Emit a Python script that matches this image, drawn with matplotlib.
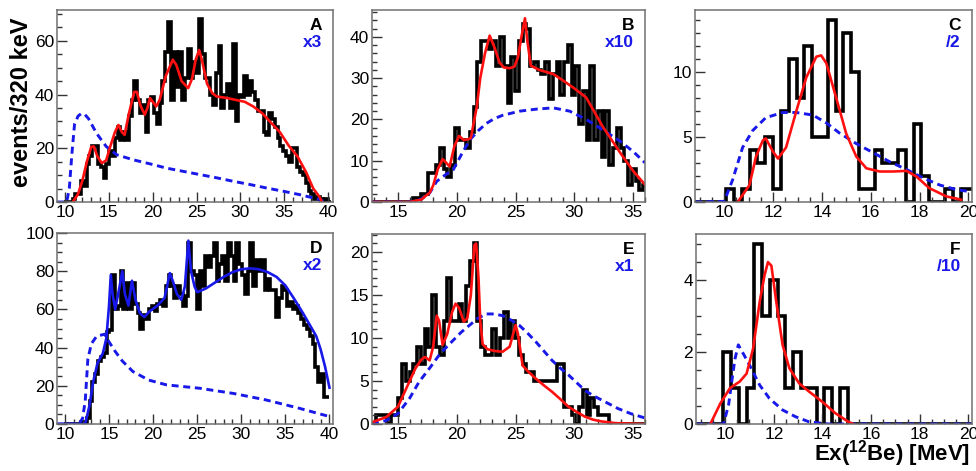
import matplotlib
matplotlib.use("Agg")
import matplotlib.pyplot as plt
from matplotlib.ticker import MultipleLocator
import numpy as np

plt.rcParams['font.family'] = ['Liberation Sans', 'DejaVu Sans']
plt.rcParams['mathtext.fontset'] = 'custom'
plt.rcParams['mathtext.rm'] = 'Liberation Sans:bold'

BIN = 0.32  # MeV, 320 keV bins

# ---- panel A ----
a_start = 9.92
a_counts = [0, 0, 0, 1, 3, 3, 8, 6, 14, 17, 21, 21, 14, 13, 9, 14, 19, 17, 24, 28,
            23, 26, 23, 32, 38, 45, 38, 33, 36, 26, 38, 39, 33, 29, 37, 45, 56, 67, 38, 56,
            43, 56, 38, 46, 57, 46, 52, 48, 68, 55, 46, 46, 40, 36, 48, 58, 35, 40, 44, 35,
            59, 30, 40, 39, 47, 40, 45, 41, 38, 34, 34, 26, 25, 33, 31, 28, 24, 21, 19, 17,
            15, 20, 20, 13, 11, 10, 7, 4, 3, 1, 2, 1, 0, 1, 0]
a_fit_x = [10.9, 11.5, 12.0, 12.5, 13.0, 13.3, 13.7, 14.2, 14.7, 15.2, 15.7, 16.1, 16.5,
           16.8, 17.3, 17.9, 18.2, 18.6, 19.1, 19.4, 19.7, 20.4, 20.8, 21.5, 22.3, 22.7,
           23.3, 24.05, 24.5, 24.9, 25.3, 25.6, 26.2, 26.8, 27.3, 28.5, 29.5, 30.5, 31.5,
           32.5, 33.5, 34.5, 35.5, 36.5, 37.5, 38.3, 39.0, 39.3]
a_fit_y = [0, 3, 8, 15, 20.5, 20.7, 17, 14.5, 15.5, 21, 26, 28.7, 26, 25, 33, 41, 41,
           36, 32.5, 35, 38.7, 35.6, 38, 47, 53, 51, 45, 42.4, 46, 53, 56.6, 53, 44, 40.5,
           39.3, 38.7, 38, 37.3, 35.5, 33, 29.5, 26, 21, 17, 11, 5, 2, 0]
a_sim_x = [9.1, 10.2, 10.5, 10.8, 11.1, 11.5, 11.9, 12.3, 12.7, 13.6, 14.7, 15.9, 17.8,
           19.7, 21.6, 23.5, 25.4, 27.3, 29.2, 31.1, 33.0, 34.9, 36.8, 39.1, 39.6]
a_sim_y = [0, 0, 5, 18, 29, 32, 33, 32.5, 31, 25.6, 20.7, 17.6, 15.7, 14.2, 12.6, 11.4,
           10.2, 9, 7.7, 6.5, 5.2, 4, 2.7, 0.9, 0]

# ---- panel B ----
b_start = 12.80
b_counts = [0, 0, 0, 0, 0, 0, 0, 0, 0, 0, 0, 1, 1, 2, 2, 7, 7, 9, 13, 8,
            6, 9, 18, 15, 15, 13, 17, 23, 34, 39, 39, 37, 39, 33, 40, 33, 24, 35, 27, 39,
            43, 42, 33, 34, 32, 31, 34, 25, 31, 34, 26, 34, 38, 26, 33, 19, 27, 15, 33, 15,
            22, 11, 22, 9, 13, 18, 13, 10, 4, 8, 5, 3, 4]
b_fit_x = [12.8, 16.0, 17.0, 17.5, 17.7, 18.0, 18.4, 18.8, 19.1, 19.4, 19.8, 20.2, 20.6,
           21.0, 21.2, 21.7, 22.0, 22.4, 22.8, 23.2, 23.65, 24.0, 24.5, 24.9, 25.2, 25.5,
           25.8, 26.0, 26.3, 27.0, 28.2, 29.0, 30.0, 31.0, 32.4, 33.9, 35.0, 36.0]
b_fit_y = [0, 0, 0.6, 1.8, 2.2, 4, 8, 10.4, 9.5, 8.6, 13.5, 16, 15, 15.2, 15.5, 23, 30,
           36, 40.3, 37.5, 33.7, 32.6, 32.4, 32.8, 35, 40, 44.5, 39, 33, 32, 31, 29.5, 27.5,
           25.3, 18.3, 11.9, 7.5, 4.2]
b_sim_x = [12.8, 16.0, 17.0, 17.7, 18.3, 19.0, 19.7, 20.4, 21.1, 21.8, 22.5, 23.2, 23.9,
           25.35, 26.8, 28.2, 29.6, 31.0, 32.4, 33.9, 35.0, 36.0]
b_sim_y = [0, 0, 0.7, 2.2, 5, 6.5, 7.8, 11.5, 15, 17.2, 19, 20.2, 21, 22, 22.5, 22.8, 22,
           20, 17.5, 14.7, 12.2, 9.5]

# ---- panel C ----
c_start = 8.80
c_counts = [0, 0, 0, 0, 1, 0, 1, 4, 3, 5, 1, 7, 11, 8, 12, 5, 5, 14, 7, 13,
            10, 1, 1, 4, 3, 3, 4, 0, 6, 2, 0, 0, 1, 0, 1, 1]
c_fit_x = [10.55, 11.03, 11.3, 11.58, 11.7, 11.99, 12.2, 12.53, 12.95, 13.36, 13.77,
           13.97, 14.18, 14.59, 15.0, 15.41, 15.82, 16.37, 16.92, 17.47, 17.88, 18.4,
           19.1, 19.7]
c_fit_y = [0, 1.3, 3.5, 4.75, 4.9, 3.9, 3.35, 4.2, 7, 9.6, 11.2, 11.3, 10.7, 8, 5.25, 3.5,
           2.6, 2.35, 2.35, 2.4, 1.95, 1.07, 0.43, 0.18]
c_sim_x = [8.8, 10.0, 10.34, 10.75, 11.16, 11.7, 12.4, 12.95, 13.63, 14.18, 14.73, 15.41,
           16.1, 16.78, 17.47, 18.15, 18.84, 19.52, 20.07]
c_sim_y = [0, 0.05, 1.7, 4.2, 5.5, 6.5, 6.9, 6.9, 6.7, 6.1, 5.3, 4.5, 3.8, 3.1, 2.5, 1.85,
           1.3, 0.95, 0.8]

# ---- panel D ----
d_start = 9.92
d_counts = [0, 0, 0, 0, 0, 0, 1, 1, 3, 12, 22, 26, 33, 35, 37, 48, 49, 78, 60, 62,
            80, 60, 74, 60, 74, 63, 58, 50, 57, 55, 60, 62, 59, 63, 65, 62, 72, 78, 72, 66,
            72, 68, 62, 67, 95, 80, 78, 60, 80, 72, 88, 82, 88, 95, 75, 84, 88, 75, 95, 88,
            75, 95, 84, 78, 68, 80, 95, 72, 86, 80, 86, 70, 76, 70, 70, 56, 66, 72, 70, 62,
            64, 60, 62, 58, 55, 52, 50, 46, 42, 30, 22, 26, 14, 14]
d_fit_x = [9.1, 12.3, 12.8, 13.2, 13.7, 14.3, 14.7, 15.0, 15.2, 15.4, 15.7, 16.2, 16.5,
           16.8, 17.2, 17.6, 18.0, 18.5, 19.0, 19.6, 20.5, 21.3, 21.9, 22.3, 22.7, 23.2,
           23.6, 24.0, 24.3, 24.7, 25.0, 26, 27, 28, 29, 30, 31, 32, 33, 34, 35, 36, 37,
           38, 38.5, 39, 39.5, 40]
d_fit_y = [0, 0, 10, 22, 32, 37, 45, 62, 78, 68, 60, 72, 80, 68, 62, 75, 65, 58, 56, 59,
           62, 66, 79, 74, 68, 65, 72, 96, 80, 72, 69, 71, 74, 77, 79.5, 81, 81.5, 81,
           79.5, 77, 72.5, 65.5, 58, 50, 46, 39, 30, 19]
d_sim_x = [9.1, 11.6, 12.0, 12.3, 12.6, 13.0, 13.6, 14.5, 15.0, 15.7, 16.5, 17.7, 19.5,
           21.5, 25.3, 29.1, 32.8, 36.6, 40.0]
d_sim_y = [0, 0, 3, 12, 34, 42, 46, 47, 43, 38, 33, 27.5, 23, 20.5, 18.7, 16, 12.6, 8.2,
           3.9]

# ---- panel E ----
e_start = 12.80
e_counts = [0, 1, 1, 1, 0, 1, 1, 3, 7, 5, 6, 7, 9, 7, 11, 9, 15, 9, 8, 12,
            17, 12, 12, 14, 12, 16, 19, 21, 12, 9, 8, 8, 11, 8, 10, 13, 10, 12, 10, 8,
            7, 6, 6, 5, 5, 5, 5, 5, 5, 7, 7, 2, 2, 1, 0, 2, 4, 1, 3, 2,
            1, 1, 1, 0, 0, 0, 0, 0, 0, 0, 0, 0, 0]
e_fit_x = [12.8, 14.0, 15.0, 15.5, 16.0, 16.5, 17.0, 17.3, 17.7, 18.0, 18.3, 18.5, 18.8,
           19.2, 19.6, 19.9, 20.2, 20.6, 20.9, 21.2, 21.5, 21.65, 21.85, 22.0, 22.2, 22.6,
           23.2, 23.9, 24.5, 24.8, 25.0, 25.2, 25.6, 26.0, 26.7, 27.4, 28.1, 28.8, 29.5,
           30.2, 30.9, 31.6, 32.3, 33.5, 36.0]
e_fit_y = [0.2, 0.8, 2, 3.5, 5, 6.5, 7.5, 7.8, 7.4, 9, 12.6, 12, 9.2, 10.5, 13, 14, 13.5,
           11.9, 12.3, 15, 20.8, 21, 17, 12, 9.3, 8.7, 8.5, 8.4, 9, 10.5, 11.5, 10.5, 6.8,
           6.2, 5.3, 4.5, 3.75, 2.9, 2.0, 1.4, 0.85, 0.5, 0.3, 0.1, 0]
e_sim_x = [12.8, 14.0, 15.0, 16.0, 16.8, 17.7, 18.6, 19.6, 20.4, 21.1, 21.8, 22.5, 23.2,
           23.9, 24.6, 25.3, 26.0, 26.7, 27.4, 28.1, 28.8, 29.5, 30.2, 30.9, 31.6, 32.3,
           33.0, 33.7, 34.8, 36.0]
e_sim_y = [0, 0.4, 1.2, 3.0, 4.9, 6.5, 8.2, 9.6, 10.7, 11.5, 12.3, 12.8, 12.8, 12.6, 12.1,
           11.5, 10.6, 9.6, 8.5, 7.4, 6.5, 5.7, 4.8, 3.9, 3.3, 2.8, 2.3, 1.8, 1.2, 0.7]

# ---- panel F ----
f_start = 8.64
f_counts = [0, 0, 0, 0, 2, 1, 0, 1, 5, 3, 4, 3, 1, 2, 1, 1, 0, 1, 0, 1,
            0, 0, 0, 0, 0, 0, 0, 0, 0, 0, 0, 0, 0, 0, 0, 0, 0]
f_fit_x = [9.39, 9.8, 10.2, 10.6, 10.88, 11.15, 11.42, 11.62, 11.76, 11.9, 12.1, 12.36,
           12.64, 13.04, 13.45, 13.99, 14.53, 15.07, 15.27]
f_fit_y = [0, 0.57, 1.0, 1.18, 1.4, 2.1, 3.4, 4.14, 4.5, 4.4, 3.4, 2.2, 1.55, 1.13, 0.9,
           0.62, 0.3, 0.06, 0]
f_sim_x = [8.8, 9.93, 10.14, 10.27, 10.4, 10.54, 10.74, 11.0, 11.42, 11.82, 12.36, 12.9,
           13.45, 14.26, 20.15]
f_sim_y = [0, 0, 0.53, 1.18, 1.8, 2.2, 1.96, 1.64, 1.08, 0.71, 0.39, 0.2, 0.06, 0, 0]

RED = '#ff1010'
BLUE = '#1818e8'
FRAME = '#707070'


def draw_panel(ax, start, counts, fit_x, fit_y, sim_x, sim_y, fit_color,
               xlim, ylim, xmaj, xmin, ymaj, ymin, letter, scale):
    edges = start + BIN * np.arange(len(counts) + 1)
    ax.stairs(counts, edges, color='black', lw=2.6, baseline=None)
    ax.plot(sim_x, sim_y, color=BLUE, lw=2.1, ls=(0, (2.4, 1.6)))
    ax.plot(fit_x, fit_y, color=fit_color, lw=1.9)
    ax.set_xlim(*xlim)
    ax.set_ylim(*ylim)
    ax.xaxis.set_major_locator(MultipleLocator(xmaj))
    ax.xaxis.set_minor_locator(MultipleLocator(xmin))
    ax.yaxis.set_major_locator(MultipleLocator(ymaj))
    ax.yaxis.set_minor_locator(MultipleLocator(ymin))
    ax.tick_params(which='both', direction='in', labelsize=12.5, color='#333333', pad=2)
    ax.tick_params(which='major', length=7, width=1)
    ax.tick_params(which='minor', length=3.5, width=1)
    for sp in ax.spines.values():
        sp.set_color(FRAME)
        sp.set_linewidth(1.1)
    ax.text(0.96, 0.92, letter, transform=ax.transAxes, ha='right', va='center',
            fontsize=12.5, fontweight='bold', color='black')
    ax.text(0.96, 0.83, scale, transform=ax.transAxes, ha='right', va='center',
            fontsize=12.5, fontweight='bold', color=BLUE)


W, H = 976, 471
fig = plt.figure(figsize=(W / 100, H / 100), dpi=100)


def box(left, top, right, bottom):
    return [left / W, 1 - bottom / H, (right - left) / W, (bottom - top) / H]


axA = fig.add_axes(box(57, 10, 333, 202))
axB = fig.add_axes(box(372, 10, 645, 202))
axC = fig.add_axes(box(695, 10, 972, 202))
axD = fig.add_axes(box(57, 233, 333, 424))
axE = fig.add_axes(box(372, 234, 645, 424))
axF = fig.add_axes(box(696, 234, 972, 424))

draw_panel(axA, a_start, a_counts, a_fit_x, a_fit_y, a_sim_x, a_sim_y, RED,
           (9.1, 40.55), (0, 71.5), 5, 1, 20, 5, 'A', 'x3')
draw_panel(axB, b_start, b_counts, b_fit_x, b_fit_y, b_sim_x, b_sim_y, RED,
           (12.8, 36.0), (0, 46.5), 5, 1, 10, 2, 'B', 'x10')
draw_panel(axC, c_start, c_counts, c_fit_x, c_fit_y, c_sim_x, c_sim_y, RED,
           (8.8, 20.15), (0, 14.8), 2, 0.5, 5, 1, 'C', '/2')
draw_panel(axD, d_start, d_counts, d_fit_x, d_fit_y, d_sim_x, d_sim_y, BLUE,
           (9.1, 40.4), (0, 100), 5, 1, 20, 5, 'D', 'x2')
draw_panel(axE, e_start, e_counts, e_fit_x, e_fit_y, e_sim_x, e_sim_y, RED,
           (12.8, 36.0), (0, 22.1), 5, 1, 5, 1, 'E', 'x1')
draw_panel(axF, f_start, f_counts, f_fit_x, f_fit_y, f_sim_x, f_sim_y, RED,
           (8.8, 20.15), (0, 5.28), 2, 0.5, 2, 0.5, 'F', '/10')

fig.text(0.022, 0.782, 'events/320 keV', rotation=90, ha='center', va='center',
         fontsize=17, fontweight='bold')
fig.text(0.994, 0.022, r'Ex($\mathrm{^{12}}$Be) [MeV]', ha='right', va='baseline',
         fontsize=16, fontweight='bold')

fig.savefig('out.png', dpi=100)
